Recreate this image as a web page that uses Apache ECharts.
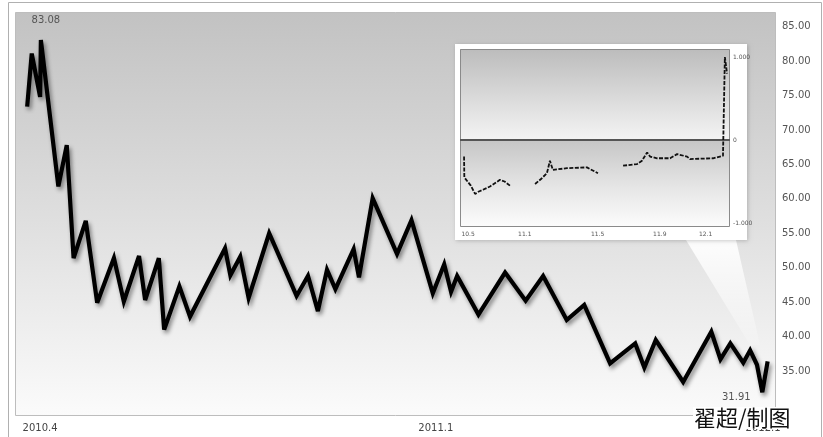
<!DOCTYPE html>
<html><head><meta charset="utf-8">
<script src="https://cdn.jsdelivr.net/npm/echarts@6/dist/echarts.min.js"></script>
<style>html,body{margin:0;padding:0;background:#fff}#c{width:823px;height:437px}</style>
</head><body><div id="c"></div>
<script>
// Main series: x = time index (0..100 across the panel), y = price
const mainX = [1.6,2.2,3.3,3.4,5.7,6.8,7.7,9.3,10.8,13.0,14.3,16.3,17.1,18.9,19.6,21.6,23.0,27.6,28.3,29.6,30.7,33.4,37.0,38.5,39.8,41.0,42.1,44.5,45.2,47.0,50.2,52.1,54.9,56.4,57.3,58.1,60.9,64.4,67.1,69.4,72.5,74.8,78.2,81.5,82.7,84.2,87.8,91.5,92.7,94.0,95.7,96.6,97.5,98.2,98.9];
const mainY = [73.4,81.1,74.8,83.08,61.8,67.8,51.4,56.8,44.9,51.4,45.1,51.7,45.3,51.4,41.0,47.3,42.9,52.8,48.9,51.6,45.6,55.0,45.9,48.8,43.7,49.7,46.9,52.7,48.6,60.1,52.0,56.9,46.3,50.5,46.5,48.8,43.2,49.3,45.2,48.8,42.4,44.6,36.1,39.0,35.5,39.5,33.4,40.7,36.7,39.0,36.2,38.0,35.9,31.91,36.4];
const mainTickPos = [1, 53, 96];
const mainTickLabels = ['2010.4', '2011.1', '2012.1'];

// Inset series (null = gap)
const insetX = [1.5,1.6,4,5.6,7,8.5,11.1,14.8,16.5,18.5,23,27.8,30,32.2,33.3,34.4,39.6,47,51.1,56,60.4,65.6,67.4,69.3,70.4,73,77.8,80.4,84.1,85.2,93.7,97.4,98.1,98.9];
const insetY = [-0.2,-0.45,-0.55,-0.65,-0.62,-0.6,-0.56,-0.48,-0.5,-0.55,null,-0.53,-0.47,-0.4,-0.25,-0.36,-0.34,-0.33,-0.4,null,-0.31,-0.29,-0.25,-0.15,-0.2,-0.22,-0.22,-0.17,-0.2,-0.23,-0.22,-0.19,1.0,0.8];
const insetTickPos = [3, 24, 51, 74, 91];
const insetTickLabels = ['10.5', '11.1', '11.5', '11.9', '12.1'];
const insetYLabels = {'-1': '-1.000', '0': '0', '1': '1.000'};

const credit = '翟超/制图';

const chart = echarts.init(document.getElementById('c'));
const mainData = mainX.map((x, i) => [x, mainY[i]]);
const insetData = insetX.map((x, i) => insetY[i] === null ? [x, '-'] : [x, insetY[i]]);

chart.setOption({
  animation: false,
  backgroundColor: '#fff',
  textStyle: { fontFamily: 'DejaVu Sans' },
  grid: [
    { left: 15, right: 47, top: 26.7, bottom: 31.6 },
    { left: 460, top: 57, width: 270, height: 166 }
  ],
  xAxis: [
    { gridIndex: 0, type: 'value', min: 0, max: 100, interval: 1,
      axisLine: { show: false }, axisTick: { show: false }, splitLine: { show: false },
      axisLabel: { margin: 18, align: 'left', fontSize: 10, color: '#444',
        formatter: v => { const i = mainTickPos.indexOf(Math.round(v)); return i >= 0 && Math.abs(v - Math.round(v)) < 1e-6 ? mainTickLabels[i] : ''; } } },
    { gridIndex: 1, type: 'value', min: 0, max: 100, interval: 1,
      axisLine: { show: false }, axisTick: { show: false }, splitLine: { show: false },
      axisLabel: { margin: 8, fontSize: 6, color: '#555',
        formatter: v => { const i = insetTickPos.indexOf(Math.round(v)); return i >= 0 && Math.abs(v - Math.round(v)) < 1e-6 ? insetTickLabels[i] : ''; } } }
  ],
  yAxis: [
    { gridIndex: 0, type: 'value', position: 'right', min: 30, max: 85, interval: 5,
      axisLine: { show: false }, axisTick: { show: false }, splitLine: { show: false },
      axisLabel: { margin: 6, fontSize: 10, color: '#555', formatter: v => v < 35 ? '' : v.toFixed(2) } },
    { gridIndex: 1, type: 'value', position: 'right', min: -1, max: 1, interval: 1,
      axisLine: { show: false }, axisTick: { show: false },
      splitLine: { show: false },
      axisLabel: { margin: 3, fontSize: 6, color: '#555', formatter: v => insetYLabels[String(v)] || '' } }
  ],
  series: [
    { type: 'line', xAxisIndex: 0, yAxisIndex: 0, data: mainData, symbol: 'none', z: 5,
      lineStyle: { color: '#000', width: 4.2, join: 'miter', miterLimit: 4,
        shadowColor: 'rgba(0,0,0,0.45)', shadowBlur: 4, shadowOffsetX: 2, shadowOffsetY: 3 },
      markPoint: {
        symbol: 'circle', symbolSize: 0,
        data: [
          { type: 'max', label: { offset: [5, -20] } },
          { type: 'min', label: { offset: [-26, 5] } }
        ],
        label: { show: true, position: 'inside', fontSize: 10, color: '#555',
          formatter: p => Number(p.value).toFixed(2) }
      } },
    { type: 'line', xAxisIndex: 1, yAxisIndex: 1, data: insetData, symbol: 'none', z: 5,
      connectNulls: false,
      markLine: { silent: true, symbol: 'none', label: { show: false },
        lineStyle: { color: '#555', width: 2, type: 'solid' }, data: [{ yAxis: 0 }] },
      lineStyle: { color: '#111', width: 1.8, type: [4, 1.5] } }
  ],
  graphic: [
    { type: 'rect', z: -20, shape: { x: 8.5, y: 2.5, width: 813, height: 440 },
      style: { fill: '#fff', stroke: '#b0b0b0', lineWidth: 1 } },
    { type: 'rect', z: -19, shape: { x: 15.5, y: 12.5, width: 760, height: 403 },
      style: { stroke: '#bdbdbd', lineWidth: 1,
        fill: { type: 'linear', x: 0, y: 0, x2: 0, y2: 1, colorStops: [
          { offset: 0, color: '#c2c2c2' }, { offset: 0.5, color: '#dedede' }, { offset: 1, color: '#fbfbfb' } ] } } },
    { type: 'polygon', z: -18, shape: { points: [[686, 240], [736, 240], [760, 345], [750, 345]] },
      style: { fill: { type: 'linear', x: 0, y: 0, x2: 0, y2: 1, colorStops: [
          { offset: 0, color: 'rgba(255,255,255,0.95)' }, { offset: 1, color: 'rgba(255,255,255,0.15)' } ] } } },
    { type: 'rect', z: -17, shape: { x: 455, y: 44, width: 292, height: 196 },
      style: { fill: '#fff', shadowColor: 'rgba(0,0,0,0.2)', shadowBlur: 4, shadowOffsetX: 1, shadowOffsetY: 1 } },
    { type: 'rect', z: -16, shape: { x: 460, y: 49, width: 270, height: 91 },
      style: { fill: { type: 'linear', x: 0, y: 0, x2: 0, y2: 1, colorStops: [
          { offset: 0, color: '#bcbcbc' }, { offset: 1, color: '#f4f4f4' } ] } } },
    { type: 'rect', z: -16, shape: { x: 460, y: 140, width: 270, height: 87 },
      style: { fill: { type: 'linear', x: 0, y: 0, x2: 0, y2: 1, colorStops: [
          { offset: 0, color: '#c6c6c6' }, { offset: 0.55, color: '#e6e6e6' }, { offset: 1, color: '#fcfcfc' } ] } } },
    { type: 'rect', z: -15, shape: { x: 460.5, y: 49.5, width: 269, height: 177 },
      style: { fill: 'none', stroke: '#8a8a8a', lineWidth: 1 } },
    { type: 'text', z: 20, x: 693, y: 418,
      style: { text: credit, fontSize: 22, fill: '#111', fontFamily: 'Noto Sans CJK SC', verticalAlign: 'middle',
        backgroundColor: '#fff', padding: [0, 1, 0, 1] } }
  ]
});
</script></body></html>
